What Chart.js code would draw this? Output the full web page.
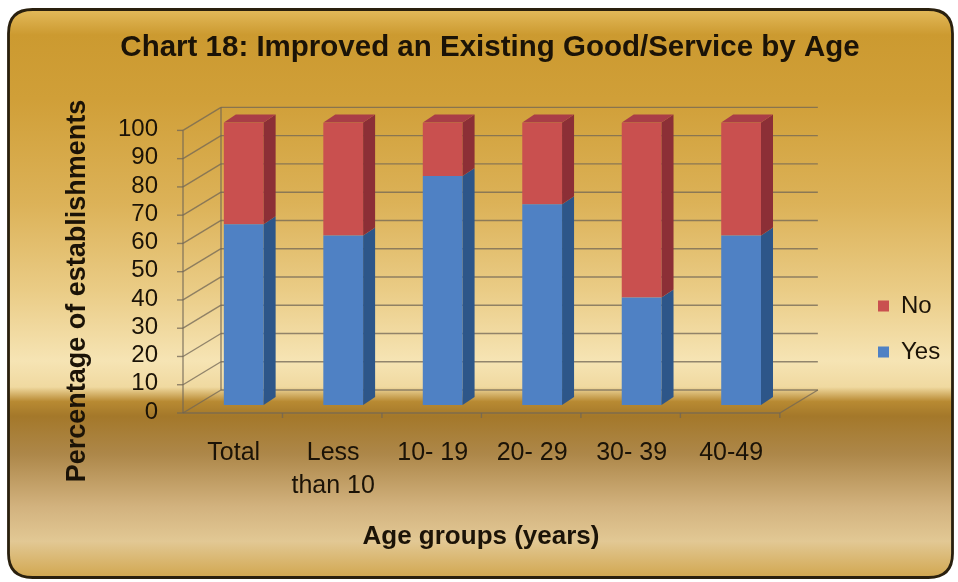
<!DOCTYPE html>
<html>
<head>
<meta charset="utf-8">
<title>Chart 18: Improved an Existing Good/Service by Age</title>
<style>
  html, body { margin: 0; padding: 0; background: #ffffff; }
  #wrap { width: 958px; height: 582px; position: relative; }
  canvas { display: block; }
</style>
<script src="https://cdn.jsdelivr.net/npm/chart.js@4.4.1/dist/chart.umd.min.js"></script>
</head>
<body>
<div id="wrap"><canvas id="chart" width="958" height="582"></canvas></div>
<script>
// Age groups on the x axis (a nested array wraps a label onto two lines)
const categories = ['Total', ['Less', 'than 10'], '10- 19', '20- 29', '30- 39', '40-49'];
// Share of establishments (%) in each age group
const yesValues = [64, 60, 81, 71, 38, 60];
const noValues  = [36, 40, 19, 29, 62, 40];
// Value axis range and step
const yMin = 0;
const yMax = 100;
const yStep = 10;

const FONT = "'Liberation Sans', Arial, Helvetica, sans-serif";
const TEXT = '#1b1307';

// Depth offsets of the pseudo-3D frame, relative to the plane of the bar fronts
const FRONT = { dx: -11, dy: 8 };   // front edge of floor / side wall
const BACK  = { dx: 27, dy: -15 };  // back wall
const BAR_DEPTH = { dx: 12, dy: -8 };

const faceColors = {
  Yes: { front: '#4f81c4', side: '#2d5689', top: '#3f6aa6' },
  No:  { front: '#c9504f', side: '#8c2f36', top: '#a93d47' }
};

// Gold panel with a rounded dark border behind everything
const goldPanel = {
  id: 'goldPanel',
  beforeDraw(chart) {
    const { ctx, width, height } = chart;
    ctx.save();
    ctx.fillStyle = '#ffffff';
    ctx.fillRect(0, 0, width, height);
    const x = 8.5, y = 9.5, w = 944, h = 568, r = 24;
    ctx.beginPath();
    ctx.moveTo(x + r, y);
    ctx.lineTo(x + w - r, y);
    ctx.quadraticCurveTo(x + w, y, x + w, y + r);
    ctx.lineTo(x + w, y + h - r);
    ctx.quadraticCurveTo(x + w, y + h, x + w - r, y + h);
    ctx.lineTo(x + r, y + h);
    ctx.quadraticCurveTo(x, y + h, x, y + h - r);
    ctx.lineTo(x, y + r);
    ctx.quadraticCurveTo(x, y, x + r, y);
    ctx.closePath();
    const g = ctx.createLinearGradient(0, 0, 0, height);
    g.addColorStop(0.015, '#e4bb5c');
    g.addColorStop(0.06, '#cc9a30');
    g.addColorStop(0.17, '#d09f38');
    g.addColorStop(0.35, '#dcb258');
    g.addColorStop(0.50, '#eacc86');
    g.addColorStop(0.62, '#f6e4b4');
    g.addColorStop(0.665, '#f0d9a0');
    g.addColorStop(0.69, '#b88a32');
    g.addColorStop(0.715, '#a4782a');
    g.addColorStop(0.78, '#ad8749');
    g.addColorStop(0.87, '#d2b27e');
    g.addColorStop(0.93, '#e2c894');
    g.addColorStop(0.99, '#d2a852');
    ctx.fillStyle = g;
    ctx.fill();
    ctx.lineWidth = 2.8;
    ctx.strokeStyle = '#2a200e';
    ctx.stroke();
    ctx.restore();
  }
};

// Back wall, side wall and floor lines, placed from the value scale
const walls = {
  id: 'walls',
  beforeDatasetsDraw(chart) {
    const { ctx, chartArea } = chart;
    const ys = chart.scales.y;
    const { left, right } = chartArea;
    const line = (x1, y1, x2, y2) => { ctx.beginPath(); ctx.moveTo(x1, y1); ctx.lineTo(x2, y2); ctx.stroke(); };
    ctx.save();
    ctx.lineWidth = 1.4;
    ctx.strokeStyle = 'rgba(112, 102, 86, 0.75)';
    ys.ticks.forEach(t => {
      const py = ys.getPixelForValue(t.value);
      line(left + BACK.dx, py + BACK.dy, right + BACK.dx, py + BACK.dy);
      line(left + FRONT.dx, py + FRONT.dy, left + BACK.dx, py + BACK.dy);
      line(left + FRONT.dx - 6, py + FRONT.dy, left + FRONT.dx, py + FRONT.dy);
    });
    const y0 = ys.getPixelForValue(yMin);
    const y1 = ys.getPixelForValue(yMax);
    line(left + FRONT.dx, y0 + FRONT.dy, left + FRONT.dx, y1 + FRONT.dy);
    line(left + BACK.dx, y0 + BACK.dy, left + BACK.dx, y1 + BACK.dy);
    line(left + FRONT.dx, y0 + FRONT.dy, right + FRONT.dx, y0 + FRONT.dy);
    line(right + FRONT.dx, y0 + FRONT.dy, right + BACK.dx, y0 + BACK.dy);
    // category separators on the floor's front edge
    const step = (right - left) / categories.length;
    for (let i = 1; i <= categories.length; i++) {
      const px = left + step * i + FRONT.dx;
      line(px, y0 + FRONT.dy, px, y0 + FRONT.dy + 5);
    }
    ctx.restore();
  }
};

// Side and top faces of each column
const barDepth = {
  id: 'barDepth',
  afterDatasetsDraw(chart) {
    const { ctx } = chart;
    const last = chart.data.datasets.length - 1;
    ctx.save();
    chart.data.datasets.forEach((ds, di) => {
      const meta = chart.getDatasetMeta(di);
      if (meta.hidden) return;
      const col = faceColors[ds.label];
      meta.data.forEach(el => {
        const p = el.getProps(['x', 'y', 'base', 'width'], true);
        const l = p.x - p.width / 2, r = p.x + p.width / 2;
        const top = Math.min(p.y, p.base), bot = Math.max(p.y, p.base);
        ctx.fillStyle = col.side;
        ctx.beginPath();
        ctx.moveTo(r, top);
        ctx.lineTo(r + BAR_DEPTH.dx, top + BAR_DEPTH.dy);
        ctx.lineTo(r + BAR_DEPTH.dx, bot + BAR_DEPTH.dy);
        ctx.lineTo(r, bot);
        ctx.closePath();
        ctx.fill();
        if (di === last) {
          ctx.fillStyle = col.top;
          ctx.beginPath();
          ctx.moveTo(l, top);
          ctx.lineTo(l + BAR_DEPTH.dx, top + BAR_DEPTH.dy);
          ctx.lineTo(r + BAR_DEPTH.dx, top + BAR_DEPTH.dy);
          ctx.lineTo(r, top);
          ctx.closePath();
          ctx.fill();
        }
      });
    });
    ctx.restore();
  }
};

// Axis titles
const axisTitles = {
  id: 'axisTitles',
  afterDraw(chart) {
    const { ctx } = chart;
    ctx.save();
    ctx.fillStyle = TEXT;
    ctx.textAlign = 'center';
    ctx.textBaseline = 'middle';
    ctx.font = `bold 27px ${FONT}`;
    ctx.translate(78, 291);
    ctx.rotate(-Math.PI / 2);
    ctx.fillText('Percentage of establishments', 0, 0);
    ctx.restore();
    ctx.save();
    ctx.fillStyle = TEXT;
    ctx.textAlign = 'center';
    ctx.textBaseline = 'middle';
    ctx.font = `bold 26px ${FONT}`;
    ctx.fillText('Age groups (years)', 481, 537);
    ctx.restore();
  }
};

// Centre the title over the whole panel; put the legend beside the wall
const blockPlacement = {
  id: 'blockPlacement',
  afterLayout(chart) {
    const tb = chart.titleBlock;
    if (tb) { tb.left = 22; tb.right = 958; }
    const lg = chart.legend;
    if (!lg) return;
    const pad = lg.options.labels.padding;
    const dx = 878 - (lg.left + pad);
    lg.left += dx; lg.right += dx;
    const dy = (306 - 12 - pad) - lg.top;
    lg.top += dy; lg.bottom += dy;
  }
};

new Chart(document.getElementById('chart'), {
  type: 'bar',
  data: {
    labels: categories,
    datasets: [
      { label: 'Yes', data: yesValues, backgroundColor: faceColors.Yes.front, borderWidth: 0 },
      { label: 'No',  data: noValues,  backgroundColor: faceColors.No.front,  borderWidth: 0 }
    ]
  },
  options: {
    responsive: false,
    animation: false,
    devicePixelRatio: 1,
    categoryPercentage: 1,
    barPercentage: 0.4,
    layout: { padding: { left: 20, right: 73, top: 8, bottom: 10 } },
    plugins: {
      title: {
        display: true,
        text: 'Chart 18: Improved an Existing Good/Service by Age',
        color: TEXT,
        fullSize: false,
        font: { family: FONT, size: 29.5, weight: 'bold', lineHeight: 1.2 },
        padding: { top: 22, bottom: 57 }
      },
      legend: {
        position: 'right',
        align: 'start',
        reverse: true,
        labels: {
          boxWidth: 11,
          boxHeight: 11,
          padding: 22,
          color: TEXT,
          font: { family: FONT, size: 24 }
        }
      },
      tooltip: { enabled: false }
    },
    scales: {
      x: {
        stacked: true,
        grid: { display: false, drawTicks: false },
        border: { display: false },
        ticks: {
          color: TEXT,
          font: { family: FONT, size: 25, lineHeight: 1.3 },
          padding: 32,
          labelOffset: -10,
          maxRotation: 0,
          autoSkip: false
        },
        afterFit(scale) { scale.height = 167; }
      },
      y: {
        stacked: true,
        min: yMin,
        max: yMax,
        grid: { display: false, drawTicks: false },
        border: { display: false },
        ticks: {
          stepSize: yStep,
          color: TEXT,
          font: { family: FONT, size: 24, lineHeight: 1 },
          padding: 36,
          labelOffset: 7,
          autoSkip: false
        },
        afterFit(scale) { scale.width = 174; }
      }
    }
  },
  plugins: [goldPanel, walls, barDepth, axisTitles, blockPlacement]
});
</script>
</body>
</html>
